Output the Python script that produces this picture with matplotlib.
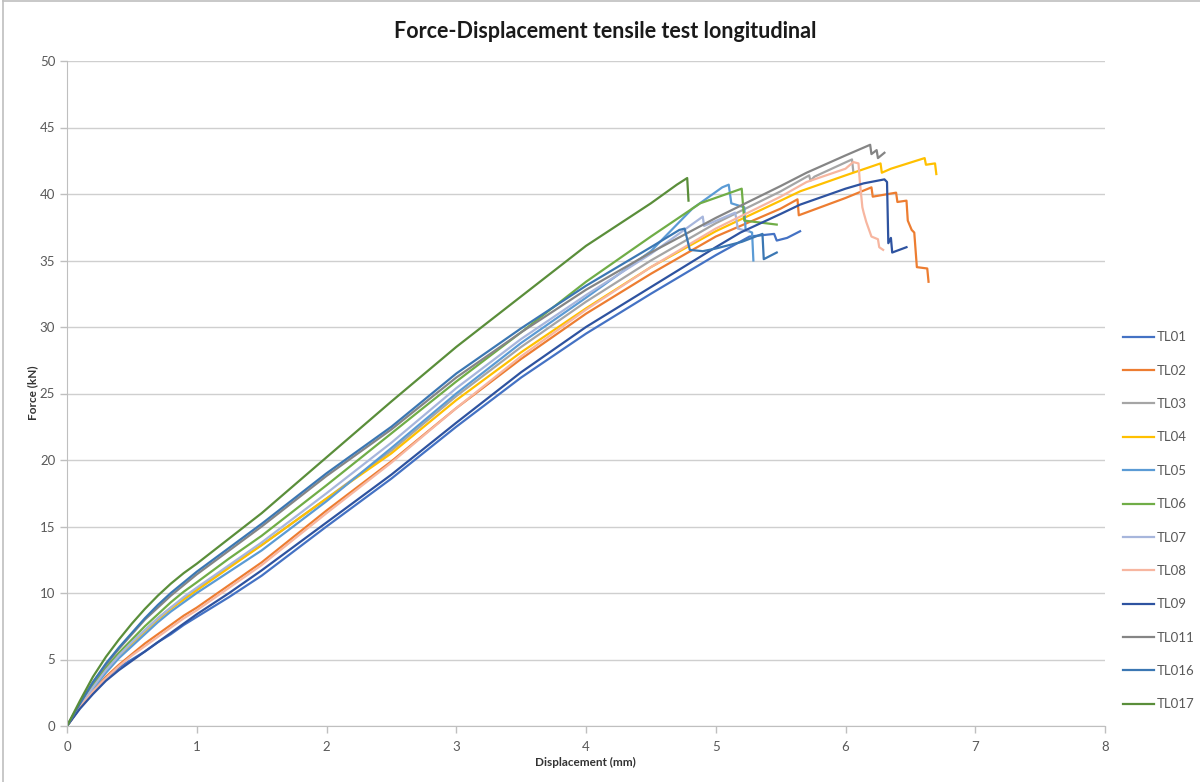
import matplotlib
matplotlib.use("Agg")
import matplotlib.pyplot as plt
from matplotlib.lines import Line2D

plt.rcParams["font.family"] = ["Lato", "DejaVu Sans"]

# displacement grid shared by the elastic part of every test (mm)
base_x = [0, 0.1, 0.2, 0.3, 0.4, 0.5, 0.6, 0.7, 0.8, 0.9, 1.0, 1.25, 1.5, 2.0, 2.5, 3.0, 3.5, 4.0, 4.5]

# force on base_x (kN), then each test's own tail up to failure
tl01_y = [0, 1.4, 2.6, 3.6, 4.4, 5.0, 5.6, 6.3, 6.9, 7.6, 8.2, 9.7, 11.3, 15.0, 18.6, 22.5, 26.2, 29.5, 32.5]
tl01_tail_x = [5.0, 5.26, 5.45, 5.47, 5.55, 5.65]
tl01_tail_y = [35.4, 36.8, 37.0, 36.5, 36.7, 37.2]

tl02_y = [0, 1.4, 2.6, 3.7, 4.6, 5.4, 6.2, 6.9, 7.6, 8.3, 8.9, 10.6, 12.3, 16.2, 19.9, 23.9, 27.6, 31.0, 34.0]
tl02_tail_x = [5.0, 5.5, 5.63, 5.64, 6.0, 6.2, 6.21, 6.39, 6.4, 6.47, 6.48, 6.51, 6.53, 6.55, 6.63, 6.64]
tl02_tail_y = [36.8, 38.9, 39.6, 38.4, 39.7, 40.5, 39.8, 40.1, 39.4, 39.5, 38.0, 37.3, 37.1, 34.5, 34.4, 33.4]

tl03_y = [0, 1.5, 2.9, 4.2, 5.3, 6.3, 7.2, 8.1, 8.9, 9.6, 10.3, 12.0, 13.6, 17.1, 20.7, 24.8, 28.5, 31.9, 35.0]
tl03_tail_x = [5.0, 5.5, 5.72, 5.73, 5.76, 6.05, 6.06]
tl03_tail_y = [37.8, 40.2, 41.4, 41.0, 41.3, 42.6, 41.7]

tl04_y = [0, 1.5, 2.9, 4.1, 5.2, 6.2, 7.1, 8.0, 8.8, 9.5, 10.2, 11.9, 13.6, 17.1, 20.5, 24.5, 28.1, 31.4, 34.5]
tl04_tail_x = [5.0, 5.5, 5.65, 6.0, 6.27, 6.28, 6.35, 6.61, 6.62, 6.69, 6.7]
tl04_tail_y = [37.2, 39.5, 40.2, 41.4, 42.3, 41.6, 41.9, 42.7, 42.2, 42.3, 41.5]

tl05_y = [0, 1.5, 2.8, 4.0, 5.1, 6.0, 6.9, 7.8, 8.6, 9.3, 10.0, 11.6, 13.2, 16.9, 20.9, 25.0, 28.8, 32.2, 35.7]
tl05_tail_x = [4.82, 5.05, 5.1, 5.12, 5.22, 5.23, 5.28, 5.29]
tl05_tail_y = [38.9, 40.5, 40.7, 39.3, 39.0, 37.3, 37.1, 35.0]

tl06_y = [0, 1.6, 3.1, 4.4, 5.5, 6.5, 7.5, 8.4, 9.3, 10.1, 10.8, 12.6, 14.3, 18.1, 22.0, 25.9, 29.6, 33.4, 36.8]
tl06_tail_x = [4.88, 5.2, 5.22, 5.47]
tl06_tail_y = [39.3, 40.4, 38.0, 37.7]

tl07_y = [0, 1.5, 2.9, 4.2, 5.3, 6.3, 7.2, 8.1, 8.9, 9.7, 10.4, 12.1, 13.8, 17.5, 21.3, 25.4, 29.1, 32.4, 35.5]
tl07_tail_x = [4.9, 4.91, 5.15, 5.17, 5.25]
tl07_tail_y = [38.3, 37.6, 38.6, 37.4, 37.2]

tl08_y = [0, 1.4, 2.6, 3.6, 4.5, 5.3, 6.0, 6.7, 7.4, 8.1, 8.7, 10.4, 12.1, 16.0, 19.8, 23.9, 27.8, 31.3, 34.5]
tl08_tail_x = [5.0, 5.5, 5.7, 6.0, 6.06, 6.1, 6.11, 6.13, 6.14, 6.16, 6.2, 6.25, 6.26, 6.29]
tl08_tail_y = [37.4, 39.8, 40.9, 41.9, 42.4, 42.3, 41.0, 39.0, 38.6, 37.9, 36.8, 36.6, 36.0, 35.8]

tl09_y = [0, 1.3, 2.4, 3.4, 4.2, 4.9, 5.6, 6.3, 7.0, 7.7, 8.4, 10.0, 11.7, 15.3, 18.9, 22.8, 26.6, 30.0, 33.0]
tl09_tail_x = [5.0, 5.19, 5.5, 5.65, 6.0, 6.14, 6.3, 6.32, 6.33, 6.35, 6.36, 6.47]
tl09_tail_y = [36.0, 37.1, 38.5, 39.2, 40.4, 40.8, 41.1, 40.9, 36.3, 36.7, 35.6, 36.0]

tl011_y = [0, 1.7, 3.3, 4.6, 5.8, 6.9, 8.0, 8.9, 9.8, 10.6, 11.4, 13.2, 15.0, 18.8, 22.3, 26.2, 29.6, 32.8, 35.6]
tl011_tail_x = [5.0, 5.5, 5.7, 6.0, 6.19, 6.2, 6.24, 6.25, 6.3]
tl011_tail_y = [38.2, 40.6, 41.6, 42.9, 43.7, 43.0, 43.3, 42.7, 43.1]

tl016_y = [0, 1.7, 3.3, 4.7, 5.9, 7.0, 8.1, 9.1, 10.0, 10.8, 11.6, 13.4, 15.2, 19.0, 22.5, 26.5, 29.9, 33.1, 36.0]
tl016_tail_x = [4.72, 4.76, 4.8, 4.9, 5.0, 5.2, 5.36, 5.37, 5.47]
tl016_tail_y = [37.3, 37.4, 35.8, 35.7, 35.9, 36.4, 37.0, 35.1, 35.6]

tl017_y = [0, 1.9, 3.7, 5.2, 6.5, 7.7, 8.8, 9.8, 10.7, 11.5, 12.2, 14.1, 16.0, 20.2, 24.4, 28.5, 32.3, 36.1, 39.3]
tl017_tail_x = [4.7, 4.78, 4.79]
tl017_tail_y = [40.7, 41.2, 39.5]

labels = ["TL01", "TL02", "TL03", "TL04", "TL05", "TL06", "TL07", "TL08", "TL09", "TL011", "TL016", "TL017"]
body = [tl01_y, tl02_y, tl03_y, tl04_y, tl05_y, tl06_y, tl07_y, tl08_y, tl09_y, tl011_y, tl016_y, tl017_y]
tails_x = [tl01_tail_x, tl02_tail_x, tl03_tail_x, tl04_tail_x, tl05_tail_x, tl06_tail_x,
           tl07_tail_x, tl08_tail_x, tl09_tail_x, tl011_tail_x, tl016_tail_x, tl017_tail_x]
tails_y = [tl01_tail_y, tl02_tail_y, tl03_tail_y, tl04_tail_y, tl05_tail_y, tl06_tail_y,
           tl07_tail_y, tl08_tail_y, tl09_tail_y, tl011_tail_y, tl016_tail_y, tl017_tail_y]
colors = ["#4472C4", "#ED7D31", "#A5A5A5", "#FFC000", "#5B9BD5", "#70AD47",
          "#A7B6DC", "#F7B6A0", "#2E53A0", "#858585", "#3B77B3", "#5A8E3A"]

fig = plt.figure(figsize=(12, 7.82), dpi=100)
ax = fig.add_axes([67 / 1200, 1 - 726 / 782, (1105 - 67) / 1200, (726 - 61) / 782])

for y, tx, ty, c, lab in zip(body, tails_x, tails_y, colors, labels):
    ax.plot(base_x + tx, y + ty, color=c, lw=1.6, label=lab, solid_joinstyle="round")

ax.set_xlim(0, 8)
ax.set_ylim(0, 50)
ax.set_xticks(range(0, 9))
ax.set_yticks(range(0, 51, 5))
ax.yaxis.grid(True, color="#CFCFCF", lw=1)
ax.set_axisbelow(True)

for side in ["top", "right"]:
    ax.spines[side].set_visible(False)
for side in ["left", "bottom"]:
    ax.spines[side].set_color("#BFBFBF")
ax.tick_params(axis="both", colors="#BFBFBF", labelcolor="#595959", labelsize=9.5, length=5, width=1)
ax.tick_params(axis="x", pad=6)

fig.text(605 / 1200, 1 - 31 / 782, "Force-Displacement tensile test longitudinal",
         ha="center", va="center", fontsize=15.5, fontweight="bold", color="#1a1a1a")
fig.text(585 / 1200, 1 - 762 / 782, "Displacement (mm)", ha="center", va="center",
         fontsize=8.5, fontweight="bold", color="#333333")
fig.text(33 / 1200, 1 - 393 / 782, "Force (kN)", ha="center", va="center", rotation=90,
         fontsize=8.5, fontweight="bold", color="#333333")

leg = fig.legend(loc="upper left", bbox_to_anchor=(1118 / 1200, 1 - 326 / 782), frameon=False,
                 fontsize=9.5, handlelength=2.3, labelspacing=1.62, handletextpad=0.2,
                 borderaxespad=0)
for t in leg.get_texts():
    t.set_color("#595959")

# chart area border (only top and left visible in the crop)
fig.add_artist(Line2D([3 / 1200, 3 / 1200], [0, 1], transform=fig.transFigure, color="#BFBFBF", lw=1.2))
fig.add_artist(Line2D([3 / 1200, 1], [1 - 1 / 782, 1 - 1 / 782], transform=fig.transFigure, color="#BFBFBF", lw=1.2))

fig.savefig("out.png", dpi=100)
